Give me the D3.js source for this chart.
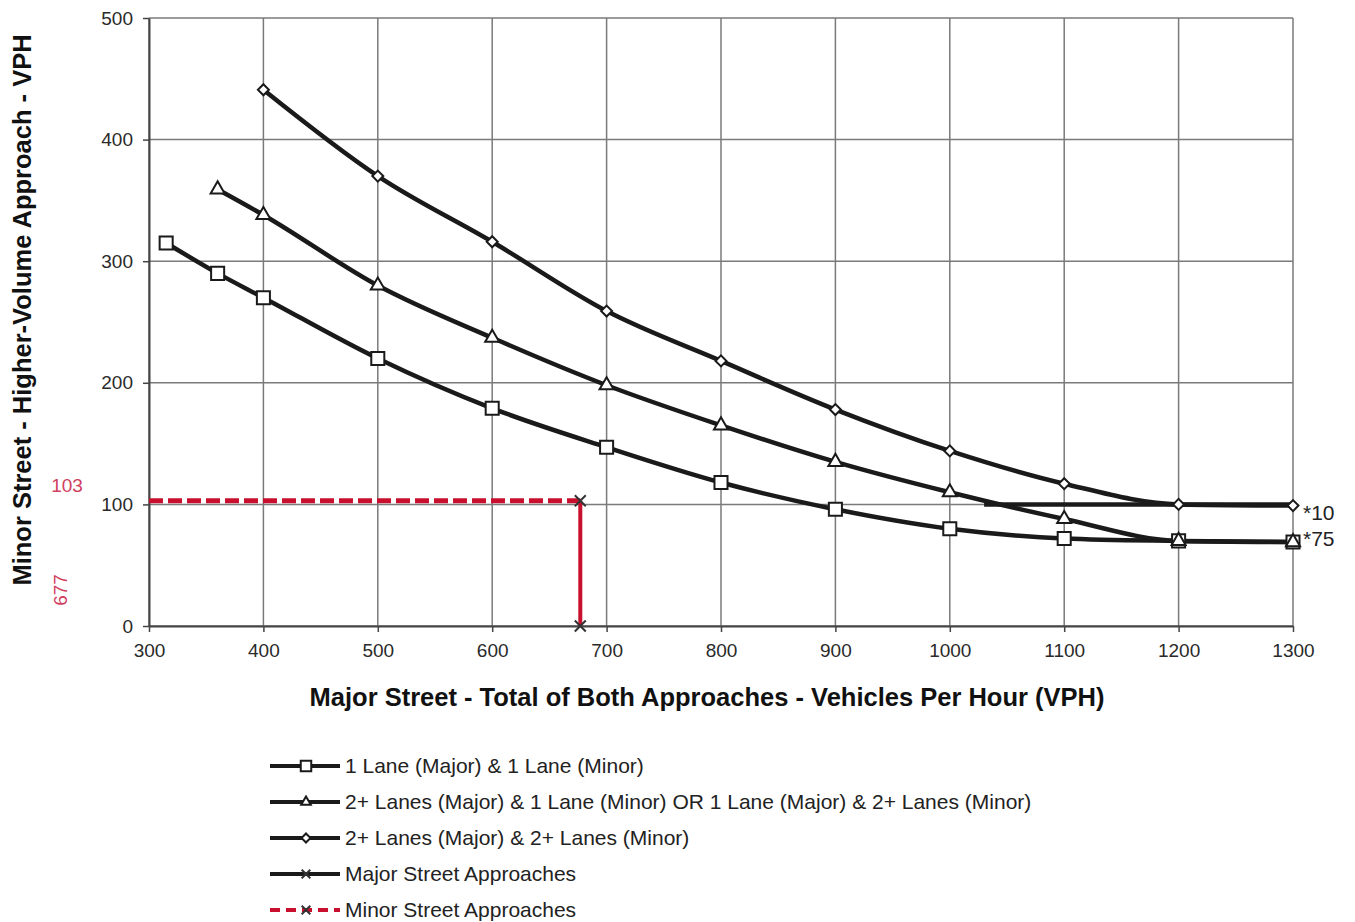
<!DOCTYPE html>
<html>
<head>
<meta charset="utf-8">
<script src="https://cdn.jsdelivr.net/npm/d3@7"></script>
<style>
  body { margin: 0; background: #fff; }
  text { font-family: "Liberation Sans", Arial, sans-serif; }
  .tick text { fill: #2a2a2a; font-size: 19px; }
  .axistext { font-weight: bold; font-size: 25.5px; fill: #111; }
  .legtext { font-size: 21px; fill: #222; }
</style>
</head>
<body>
<div id="chart"></div>
<script>
// curve data
var oneLaneX = [315, 360, 400, 500, 600, 700, 800, 900, 1000, 1100, 1200, 1300];
var oneLaneY = [315, 290, 270, 220, 179, 147, 118, 96, 80, 72, 70, 69];

var twoOneX = [360, 400, 500, 600, 700, 800, 900, 1000, 1100, 1200, 1300];
var twoOneY = [359, 338, 280, 237, 198, 165, 135, 110, 88, 70, 69];

var twoTwoX = [400, 500, 600, 700, 800, 900, 1000, 1100, 1200, 1300];
var twoTwoY = [441, 370, 316, 259, 218, 178, 144, 117, 100, 99];

// horizontal floor line at 100
var floorX = [1030, 1300];
var floorY = [100, 100];

// example point
var majorX = [677, 677];
var majorY = [103, 0];
var minorX = [300, 677];
var minorY = [103, 103];

var xTicks = [300, 400, 500, 600, 700, 800, 900, 1000, 1100, 1200, 1300];
var yTicks = [0, 100, 200, 300, 400, 500];

var legendLabels = [
    "1 Lane (Major) & 1 Lane (Minor)",
    "2+ Lanes (Major) & 1 Lane (Minor) OR 1 Lane (Major) & 2+ Lanes (Minor)",
    "2+ Lanes (Major) & 2+ Lanes (Minor)",
    "Major Street Approaches",
    "Minor Street Approaches"
];

var margin = {top: 18, right: 62, bottom: 296, left: 149},
    width = 1355 - margin.left - margin.right,
    height = 922 - margin.top - margin.bottom;

var red = "#c8102e";

var svg = d3.select("#chart").append("svg")
    .attr("width", 1355)
    .attr("height", 922);

var g = svg.append("g")
    .attr("transform", "translate(" + margin.left + "," + margin.top + ")");

var x = d3.scaleLinear().domain([300, 1300]).range([0, width]);
var y = d3.scaleLinear().domain([0, 500]).range([height, 0]);

function pts(xs, ys) {
    return xs.map(function (d, i) { return [d, ys[i]]; });
}

// grid
g.append("g").selectAll("line").data(xTicks).enter().append("line")
    .attr("x1", function (d) { return x(d); })
    .attr("x2", function (d) { return x(d); })
    .attr("y1", 0).attr("y2", height)
    .attr("stroke", "#7a7a7a").attr("stroke-width", 1.5);
g.append("g").selectAll("line").data(yTicks).enter().append("line")
    .attr("y1", function (d) { return y(d); })
    .attr("y2", function (d) { return y(d); })
    .attr("x1", 0).attr("x2", width)
    .attr("stroke", "#7a7a7a").attr("stroke-width", 1.5);

// axes
g.append("g")
    .attr("transform", "translate(0," + height + ")")
    .call(d3.axisBottom(x).tickValues(xTicks).tickFormat(d3.format("d"))
        .tickSize(6).tickSizeOuter(0).tickPadding(12));
g.append("g")
    .call(d3.axisLeft(y).tickValues(yTicks).tickSize(6).tickSizeOuter(0).tickPadding(10));
g.selectAll(".domain").attr("stroke", "#444").attr("stroke-width", 2);
g.selectAll(".tick line").attr("stroke", "#444").attr("stroke-width", 1.5);
g.selectAll(".tick text").attr("font-family", "Liberation Sans, Arial, sans-serif");

// curves
var smooth = d3.line()
    .x(function (d) { return x(d[0]); })
    .y(function (d) { return y(d[1]); })
    .curve(d3.curveMonotoneX);
var straight = d3.line()
    .x(function (d) { return x(d[0]); })
    .y(function (d) { return y(d[1]); });

var series = [
    {data: pts(oneLaneX, oneLaneY), shape: "square"},
    {data: pts(twoOneX, twoOneY), shape: "triangle"},
    {data: pts(twoTwoX, twoTwoY), shape: "diamond"}
];

g.append("path")
    .datum(pts(floorX, floorY))
    .attr("d", straight)
    .attr("fill", "none").attr("stroke", "#1a1a1a").attr("stroke-width", 4.5);

series.forEach(function (s) {
    g.append("path")
        .datum(s.data)
        .attr("d", smooth)
        .attr("fill", "none")
        .attr("stroke", "#1a1a1a")
        .attr("stroke-width", 4.5);
});

// diamond drawn as a square turned 45 degrees
function marker(sel, shape, size) {
    var sym = shape == "triangle" ? d3.symbolTriangle : d3.symbolSquare;
    sel.attr("d", d3.symbol().type(sym).size(size))
        .attr("fill", "#fff")
        .attr("stroke", "#1a1a1a")
        .attr("stroke-width", 2);
    if (shape == "diamond") {
        sel.attr("transform", function () {
            return d3.select(this).attr("transform") + " rotate(45)";
        });
    }
}
var sizes = {square: 170, triangle: 85, diamond: 60};

series.forEach(function (s) {
    g.append("g").selectAll("path").data(s.data).enter().append("path")
        .attr("transform", function (d) { return "translate(" + x(d[0]) + "," + y(d[1]) + ")"; })
        .call(marker, s.shape, sizes[s.shape]);
});

// example: minor street dashed and major street vertical
g.append("path")
    .datum(pts(minorX, minorY))
    .attr("d", straight)
    .attr("fill", "none").attr("stroke", red)
    .attr("stroke-width", 5).attr("stroke-dasharray", "14,5");
g.append("path")
    .datum(pts(majorX, majorY))
    .attr("d", straight)
    .attr("fill", "none").attr("stroke", red).attr("stroke-width", 4);
g.append("g").selectAll("path").data(pts(majorX, majorY)).enter().append("path")
    .attr("transform", function (d) { return "translate(" + x(d[0]) + "," + y(d[1]) + ")"; })
    .attr("d", d3.symbol().type(d3.symbolX).size(80))
    .attr("stroke", "#333").attr("stroke-width", 2);

// value labels
svg.append("text")
    .attr("x", 67).attr("y", 492)
    .attr("text-anchor", "middle")
    .attr("font-size", 19).attr("fill", "#d0405e")
    .text(minorY[0]);
svg.append("text")
    .attr("transform", "translate(67,590) rotate(-90)")
    .attr("text-anchor", "middle")
    .attr("font-size", 19).attr("fill", "#d0405e")
    .text(majorX[0]);

// right-end labels
svg.append("text")
    .attr("x", margin.left + width + 10).attr("y", 520)
    .attr("font-size", 21).attr("fill", "#222").text("*10");
svg.append("text")
    .attr("x", margin.left + width + 10).attr("y", 546)
    .attr("font-size", 21).attr("fill", "#222").text("*75");

// axis titles
svg.append("text")
    .attr("class", "axistext")
    .attr("x", 707)
    .attr("y", 706)
    .attr("text-anchor", "middle")
    .text("Major Street - Total of Both Approaches - Vehicles Per Hour (VPH)");
svg.append("text")
    .attr("class", "axistext")
    .attr("transform", "translate(31,310) rotate(-90)")
    .attr("text-anchor", "middle")
    .text("Minor Street - Higher-Volume Approach - VPH");

// legend
var leg = svg.append("g").attr("transform", "translate(270,766)");
var rows = leg.selectAll("g").data(legendLabels).enter().append("g")
    .attr("transform", function (d, i) { return "translate(0," + (i * 36) + ")"; });
rows.append("line")
    .attr("x1", 0).attr("x2", 70).attr("y1", 0).attr("y2", 0)
    .attr("stroke", function (d, i) { return i == 4 ? red : "#1a1a1a"; })
    .attr("stroke-width", 4)
    .attr("stroke-dasharray", function (d, i) { return i == 4 ? "10,6" : null; });
var legShapes = ["square", "triangle", "diamond"];
rows.filter(function (d, i) { return i < 3; }).append("path")
    .attr("transform", "translate(36,0)")
    .each(function (d, i) {
        d3.select(this).call(marker, legShapes[i], i == 0 ? 110 : 40);
    });
rows.filter(function (d, i) { return i >= 3; }).append("path")
    .attr("transform", "translate(36,0)")
    .attr("d", d3.symbol().type(d3.symbolX).size(50))
    .attr("stroke", "#333").attr("stroke-width", 2);
rows.append("text")
    .attr("class", "legtext")
    .attr("x", 75).attr("y", 7)
    .text(function (d) { return d; });
</script>
</body>
</html>
